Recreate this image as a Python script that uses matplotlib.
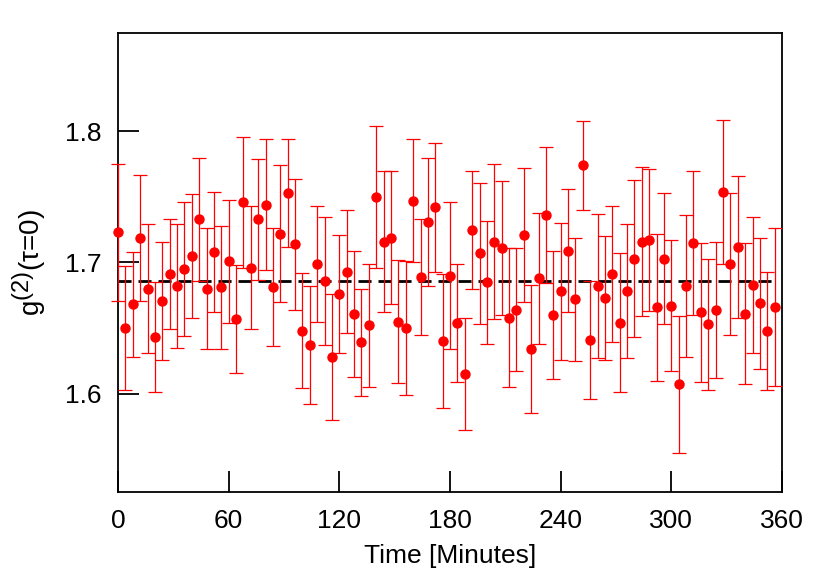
import numpy as np
import matplotlib
matplotlib.use("Agg")
import matplotlib.pyplot as plt
import matplotlib._mathtext as mathtext_impl

plt.rcParams['font.family'] = ['Liberation Sans', 'DejaVu Sans']
plt.rcParams['mathtext.fontset'] = 'custom'
plt.rcParams['mathtext.rm'] = 'Liberation Sans'
plt.rcParams['mathtext.it'] = 'Liberation Sans:italic'
# 上标字号放大一些，接近原图
mathtext_impl.SHRINK_FACTOR = 0.85

# 测量数据：每4分钟一个点
minutes = list(range(0, 360, 4))
g2 = [1.723, 1.650, 1.668, 1.719, 1.680, 1.643, 1.671, 1.691, 1.682, 1.695,
      1.705, 1.733, 1.680, 1.708, 1.681, 1.701, 1.657, 1.746, 1.696, 1.733,
      1.744, 1.681, 1.722, 1.753, 1.714, 1.648, 1.637, 1.699, 1.686, 1.628,
      1.676, 1.693, 1.661, 1.639, 1.652, 1.750, 1.716, 1.719, 1.655, 1.650,
      1.747, 1.689, 1.731, 1.742, 1.640, 1.690, 1.654, 1.615, 1.725, 1.707,
      1.685, 1.716, 1.711, 1.658, 1.664, 1.721, 1.634, 1.688, 1.736, 1.660,
      1.678, 1.709, 1.672, 1.774, 1.641, 1.682, 1.673, 1.691, 1.654, 1.678,
      1.703, 1.716, 1.717, 1.666, 1.703, 1.667, 1.607, 1.682, 1.715, 1.662,
      1.653, 1.664, 1.754, 1.699, 1.712, 1.661, 1.683, 1.669, 1.648, 1.666]
g2_err = [0.052, 0.047, 0.040, 0.048, 0.049, 0.042, 0.045, 0.042, 0.047, 0.051,
          0.047, 0.047, 0.046, 0.046, 0.047, 0.047, 0.041, 0.050, 0.047, 0.046,
          0.050, 0.045, 0.052, 0.041, 0.050, 0.044, 0.045, 0.044, 0.049, 0.048,
          0.045, 0.047, 0.048, 0.041, 0.047, 0.054, 0.054, 0.051, 0.047, 0.051,
          0.047, 0.044, 0.049, 0.049, 0.051, 0.056, 0.045, 0.043, 0.045, 0.054,
          0.047, 0.059, 0.051, 0.053, 0.047, 0.051, 0.049, 0.050, 0.052, 0.049,
          0.052, 0.047, 0.047, 0.034, 0.045, 0.055, 0.047, 0.052, 0.053, 0.051,
          0.060, 0.057, 0.054, 0.056, 0.050, 0.050, 0.052, 0.054, 0.055, 0.053,
          0.050, 0.052, 0.055, 0.054, 0.054, 0.054, 0.052, 0.050, 0.045, 0.060]
g2_mean = 1.686

fig = plt.figure(figsize=(8.3, 5.81), dpi=100)
ax = fig.add_axes([0.1422, 0.1532, 0.8, 0.7900])

ax.errorbar(minutes, g2, yerr=g2_err, fmt='o', color='red', ms=6.5,
            elinewidth=0.9, capsize=5, capthick=0.9, clip_on=False, zorder=3)
ax.hlines(g2_mean, minutes[0], minutes[-1], colors='black', linewidth=2,
          linestyles=(0, (4.7, 2.5)), zorder=2)

ax.set_xlim(0, 360)
ax.set_ylim(1.525, 1.875)
ax.set_xticks([0, 60, 120, 180, 240, 300, 360])
ax.set_yticks([1.6, 1.7, 1.8])
ax.tick_params(direction='in', length=15, width=1.3, labelsize=19, pad=12)
for s in ax.spines.values():
    s.set_linewidth(1.3)

ax.set_xlabel("Time [Minutes]", fontsize=19, labelpad=8)
ax.set_ylabel(r"g$^{(2)}$(τ=0)", fontsize=20, labelpad=12)

plt.savefig("out.png", dpi=100)
